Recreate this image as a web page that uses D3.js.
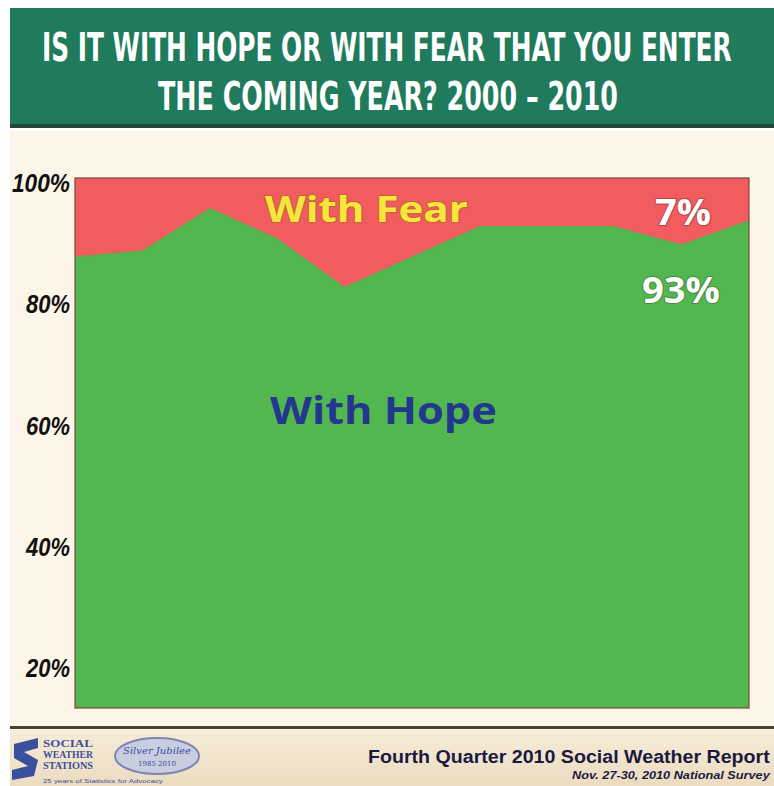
<!DOCTYPE html>
<html>
<head>
<meta charset="utf-8">
<script src="https://cdn.jsdelivr.net/npm/d3@7/dist/d3.min.js"></script>
<style>
  html, body { margin: 0; padding: 0; background: #ffffff; }
  svg { display: block; }
</style>
</head>
<body>
<svg id="chart" width="774" height="786"></svg>
<script>
// Survey years and share of respondents entering the new year with hope (%)
const years = [2000, 2001, 2002, 2003, 2004, 2005, 2006, 2007, 2008, 2009, 2010];
const withHope = [87, 88, 95, 90, 82, 87, 92, 92, 92, 89, 93];
const withFear = [13, 12, 5, 10, 18, 13, 8, 8, 8, 11, 7];
const yTicks = [20, 40, 60, 80, 100];
const titleLines = ["IS IT WITH HOPE OR WITH FEAR THAT YOU ENTER", "THE COMING YEAR? 2000 \u2013 2010"];

const svg = d3.select("#chart");
const W = 774, H = 786;

// squeeze a text horizontally so it spans the given width
function fitWidth(sel, width, anchorX, anchor) {
  const len = sel.node().getComputedTextLength();
  const k = width / len;
  const x0 = anchor === "middle" ? anchorX - width / 2 : anchor === "end" ? anchorX - width : anchorX;
  sel.attr("x", 0).attr("text-anchor", "start")
     .attr("transform", `translate(${x0},0) scale(${k},1)`);
  return sel;
}

// backgrounds
svg.append("rect").attr("x", 0).attr("y", 0).attr("width", W).attr("height", H).attr("fill", "#ffffff");
svg.append("rect").attr("x", 10).attr("y", 131).attr("width", W - 10).attr("height", H - 131).attr("fill", "#fdf5e7");

// title band
svg.append("rect").attr("x", 10).attr("y", 8).attr("width", W - 10).attr("height", 118).attr("fill", "#1f7b5b");
svg.append("rect").attr("x", 10).attr("y", 124).attr("width", W - 10).attr("height", 4).attr("fill", "#22463a");
const titleWidths = [690, 460];
const titleY = [61, 110];
titleLines.forEach((t, i) => {
  const el = svg.append("text")
    .attr("y", titleY[i])
    .attr("font-family", "'DejaVu Sans Condensed', 'Liberation Sans Narrow', sans-serif")
    .attr("font-weight", "bold")
    .attr("font-size", 39)
    .attr("fill", "#ffffff")
    .text(t);
  fitWidth(el, titleWidths[i], W / 2 + (i === 0 ? 0 : 1), "middle");
});

// plot geometry
const plot = { left: 75, right: 749, top: 178, bottom: 708 };
const axisFloor = 12.6;

const x = d3.scalePoint().domain(years).range([plot.left, plot.right]);
const y = d3.scaleLinear().domain([axisFloor, 100]).range([plot.bottom, plot.top]);

const rows = years.map((yr, i) => ({ year: yr, hope: withHope[i], fear: withFear[i] }));
const stack = d3.stack().keys(["hope", "fear"]);
const series = stack(rows);

const area = d3.area()
  .x(d => x(d.data.year))
  .y0(d => y(Math.max(d[0], axisFloor)))
  .y1(d => y(d[1]));

const colors = { hope: "#52b74e", fear: "#f25c5f" };

svg.append("g").selectAll("path")
  .data(series)
  .join("path")
  .attr("d", area)
  .attr("fill", d => colors[d.key]);

// boundary between hope and fear
svg.append("path")
  .datum(rows)
  .attr("d", d3.line().x(d => x(d.year)).y(d => y(d.hope)))
  .attr("fill", "none")
  .attr("stroke", "#6aa04a")
  .attr("stroke-width", 1);

// frame
svg.append("rect")
  .attr("x", plot.left).attr("y", plot.top)
  .attr("width", plot.right - plot.left).attr("height", plot.bottom - plot.top)
  .attr("fill", "none").attr("stroke", "#7a4a3c").attr("stroke-width", 1.2);

// y axis labels
const yAxis = d3.axisLeft(y).tickValues(yTicks).tickFormat(d => d + "%").tickSize(0).tickPadding(0);
const gy = svg.append("g").call(yAxis);
gy.select(".domain").remove();
gy.selectAll(".tick").attr("transform", d => `translate(0,${y(d) + 5})`);
gy.selectAll("text")
  .attr("dy", "0.36em")
  .attr("font-family", "'Liberation Sans', Arial, sans-serif")
  .attr("font-weight", "bold")
  .attr("font-style", "italic")
  .attr("font-size", 25)
  .attr("fill", "#111111")
  .each(function (d) {
    fitWidth(d3.select(this), d === 100 ? 58 : 44, 70, "end");
  });

// series labels
const labelFont = "'Open Sans', 'DejaVu Sans', sans-serif";
function label(txt, xPos, yPos, size, fill, stroke, width) {
  const t = svg.append("text")
    .attr("y", yPos)
    .attr("font-family", labelFont)
    .attr("font-weight", "bold")
    .attr("font-size", size)
    .attr("fill", fill)
    .text(txt);
  if (stroke) {
    t.attr("stroke", stroke).attr("stroke-width", 2).attr("paint-order", "stroke").attr("stroke-linejoin", "round");
  }
  fitWidth(t, width, xPos, "start");
  return t;
}
const last = rows[rows.length - 1];
label("With Fear", 265, 222, 36, "#f6e63c", "#c8603a", 203);
label(last.fear + "%", 655, 225, 36, "#ffffff", "#b6454a", 56);
label(last.hope + "%", 642, 303, 36, "#ffffff", "#4c8a44", 78);
label("With Hope", 270, 424, 37, "#24378f", null, 227);

// footer
const grad = svg.append("defs").append("linearGradient").attr("id", "footGrad")
  .attr("x1", 0).attr("y1", 0).attr("x2", 0).attr("y2", 1);
grad.append("stop").attr("offset", 0).attr("stop-color", "#f6ecd8");
grad.append("stop").attr("offset", 1).attr("stop-color", "#ebdcc0");
svg.append("rect").attr("x", 10).attr("y", 730).attr("width", W - 10).attr("height", H - 730).attr("fill", "url(#footGrad)");
svg.append("rect").attr("x", 10).attr("y", 726).attr("width", W - 10).attr("height", 3).attr("fill", "#4b4233");

// organisation mark
svg.append("path")
  .attr("d", "M14,744 L38,738 L38,748 L24,752 L38,760 L34,776 L12,780 L12,770 L28,766 L14,758 Z")
  .attr("fill", "#3a4f9e");
["SOCIAL", "WEATHER", "STATIONS"].forEach((t, i) => {
  const el = svg.append("text").attr("y", 747 + i * 11)
    .attr("font-family", "'Liberation Serif', serif").attr("font-weight", "bold")
    .attr("font-size", 10).attr("fill", "#3a4f9e").text(t);
  fitWidth(el, 50, 43, "start");
});
const tag = svg.append("text").attr("y", 783)
  .attr("font-family", "'Liberation Sans', sans-serif").attr("font-size", 5.5).attr("fill", "#3a4f9e")
  .text("25 years of Statistics for Advocacy");
fitWidth(tag, 120, 43, "start");
svg.append("ellipse").attr("cx", 157).attr("cy", 756).attr("rx", 42).attr("ry", 18)
  .attr("fill", "#c9cde0").attr("stroke", "#7d86b5").attr("stroke-width", 2);
svg.append("text").attr("x", 157).attr("y", 754).attr("text-anchor", "middle")
  .attr("font-family", "'DejaVu Serif', serif").attr("font-style", "italic").attr("font-size", 10)
  .attr("fill", "#3a4f9e").text("Silver Jubilee");
svg.append("text").attr("x", 157).attr("y", 766).attr("text-anchor", "middle")
  .attr("font-family", "'DejaVu Serif', serif").attr("font-size", 7)
  .attr("fill", "#3a4f9e").text("1985  2010");

const rep = svg.append("text").attr("y", 763)
  .attr("font-family", "'Liberation Sans', Arial, sans-serif").attr("font-weight", "bold")
  .attr("font-size", 17.5).attr("fill", "#1a1a40")
  .text("Fourth Quarter 2010 Social Weather Report");
fitWidth(rep, 402, 368, "start");
const survey = svg.append("text").attr("y", 779)
  .attr("font-family", "'Liberation Sans', Arial, sans-serif").attr("font-weight", "bold")
  .attr("font-style", "italic").attr("font-size", 11).attr("fill", "#1a1a40")
  .text("Nov. 27-30, 2010 National Survey");
fitWidth(survey, 198, 572, "start");
</script>
</body>
</html>
